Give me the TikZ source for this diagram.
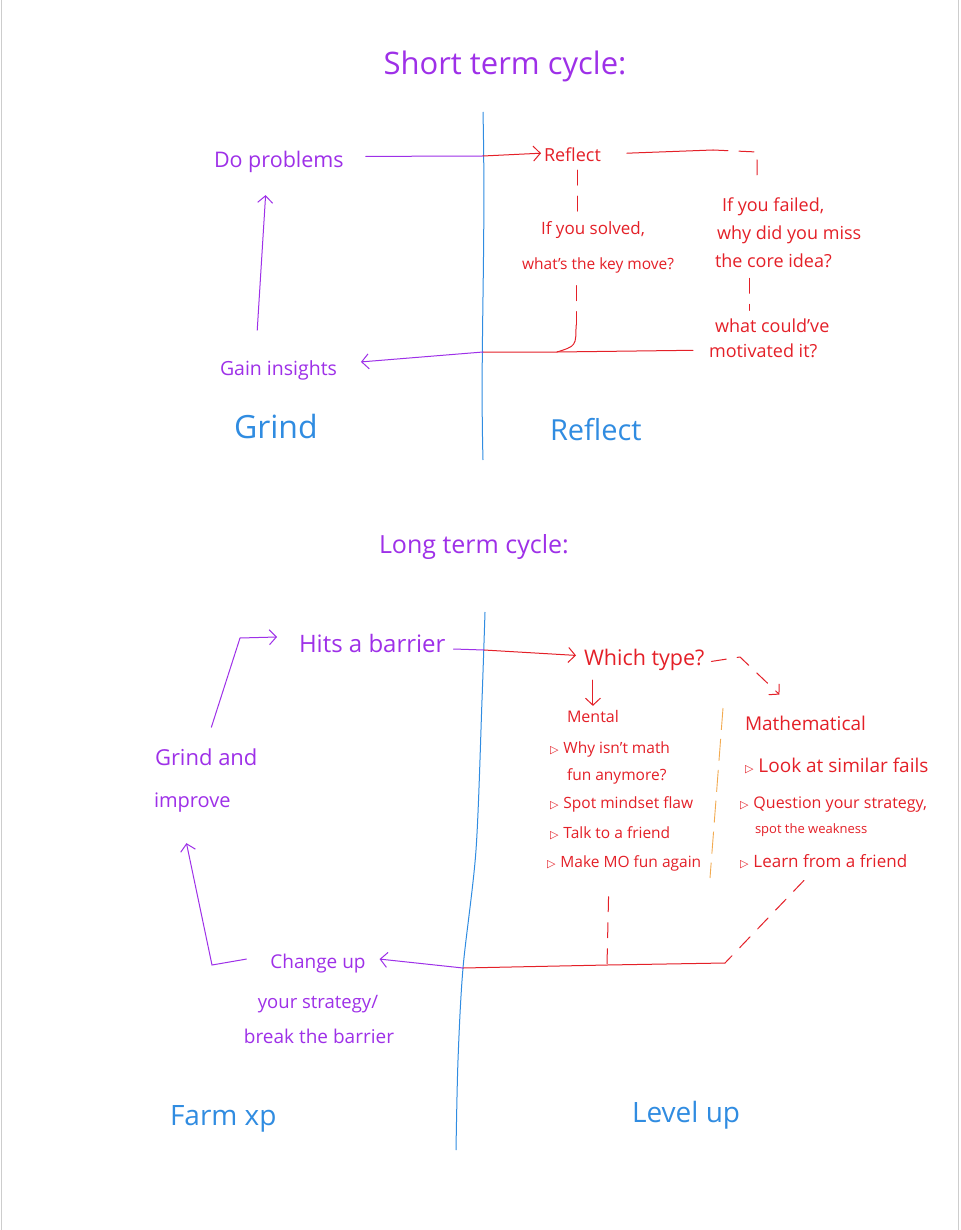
\documentclass[tikz,border=0pt]{standalone}
\usepackage{fontspec}
\setmainfont{Open Sans}
\newfontfamily\symfont{DejaVu Sans}
\usetikzlibrary{arrows.meta}
\definecolor{purp}{RGB}{158,48,232}
\definecolor{rd}{RGB}{228,32,40}
\definecolor{bl}{RGB}{48,140,225}
\definecolor{org}{RGB}{242,170,80}
\definecolor{framegray}{RGB}{205,205,205}
\newcommand{\tri}{{\symfont\fontsize{11}{11}\selectfont ▷}\hspace{5pt}}
\begin{document}
\begin{tikzpicture}[x=1pt,y=-1pt,
  lbl/.style={inner sep=0pt, outer sep=2pt},
  pt/.style={lbl, text=purp},
  rt/.style={lbl, text=rd},
  bt/.style={lbl, text=bl},
  fs/.style={font=\fontsize{#1}{#1}\selectfont},
  pline/.style={draw=purp, line width=1pt, line cap=round},
  rline/.style={draw=rd, line width=1pt, line cap=round},
  rdash/.style={rline, dash pattern=on 15pt off 11pt},
  odash/.style={draw=org, line width=0.9pt, dash pattern=on 22pt off 9pt},
  bline/.style={draw=bl, line width=1pt},
  tip/.style={-{Straight Barb[length=7pt,width=15pt]}},
]
\useasboundingbox (0,0) rectangle (960,1230);
\fill[white] (0,0) rectangle (960,1230);
\draw[framegray, line width=1pt] (1,0) -- (1,1230);
\draw[framegray, line width=1pt] (958.5,0) -- (958.5,1230);

% ---------------- short term cycle ----------------
\node[pt, fs=31, anchor=base] (t1) at (505,75) {Short term cycle:};
\draw[bline] (483,112) .. controls (486,250) and (480,350) .. (483,460);

\node[pt, fs=21.5, anchor=base west] (doprob) at (212,168) {Do problems};
\node[rt, fs=18, anchor=base west] (refl) at (542,162) {Reflect};
\node[rt, fs=17, anchor=base] (sol1) at (593,235) {If you solved,};
\node[rt, fs=15.5, anchor=base] (sol2) at (598,270) {what's the key move?};
\node[rt, fs=18, anchor=base west] (fail1) at (720,212) {If you failed,};
\node[rt, fs=18, anchor=base west] (fail2) at (715,240) {why did you miss};
\node[rt, fs=18, anchor=base west] (fail3) at (713,268) {the core idea?};
\node[rt, fs=18, anchor=base west] (mot1) at (713,332) {what could've};
\node[rt, fs=18, anchor=base west] (mot2) at (707,357) {motivated it?};
\node[pt, fs=19.5, anchor=base west] (gain) at (218,375) {Gain insights};
\node[bt, fs=32, anchor=base west] (grind) at (232,438) {Grind};
\node[bt, fs=29, anchor=base west] (reflB) at (548,440) {Reflect};

\coordinate (x1) at (483,156);
\coordinate (x2) at (483,352);
\coordinate (c1) at (713,150);
\coordinate (c2) at (757,152);
\coordinate (j1) at (576,325);
\coordinate (j0) at (557,352);

\draw[pline] ([xshift=20pt,yshift=6pt]doprob.east) -- (x1);
\draw[rline,tip] (x1) -- ([xshift=-1pt,yshift=2pt]refl.west);
\draw[rline] ([xshift=24pt,yshift=2pt]refl.east) -- (c1);
\draw[rdash] (c1) -- (c2) -- (c2 |- fail1.north) [shorten >=12pt];
\draw[rdash, shorten <=6pt, shorten >=6pt] ([xshift=5pt]refl.south) -- ([xshift=5pt]refl.south |- sol1.north);
\draw[rdash, shorten <=10pt] ([xshift=-22pt]sol2.south) -- (j1);
\draw[rline] (j1) .. controls (576,346) .. (j0);
\draw[rdash, shorten <=8pt, shorten >=6pt] ([xshift=36pt]fail3.south west) -- ([xshift=36pt]fail3.south west |- mot1.north);
\draw[rline] ([xshift=-14pt]mot2.west) -- (j0) -- (x2);
\draw[pline,tip] (x2) -- ([xshift=22pt,yshift=8pt]gain.east);
\draw[pline,tip, shorten <=28pt, shorten >=20pt] ([xshift=-23pt]gain.north) -- ([xshift=-12pt]doprob.south);

% ---------------- long term cycle ----------------
\node[pt, fs=25, anchor=base west] (t2) at (377,553) {Long term cycle:};
\draw[bline] plot[smooth] coordinates {(485,612) (482,700) (476,850) (463,968) (458,1060) (456,1150)};

\node[pt, fs=24, anchor=base west] (hits) at (297,652) {Hits a barrier};
\node[rt, fs=21.5, anchor=base west] (which) at (582,665) {Which type?};
\node[rt, fs=16, anchor=base west] (mental) at (565,722) {Mental};
\node[rt, fs=15.5, anchor=base west] (me1) at (548,753) {\tri Why isn't math};
\node[rt, fs=15.5, anchor=base west] (me2) at (565,780) {fun anymore?};
\node[rt, fs=15.5, anchor=base west] (me3) at (548,808) {\tri Spot mindset flaw};
\node[rt, fs=15.5, anchor=base west] (me4) at (548,838) {\tri Talk to a friend};
\node[rt, fs=15.5, anchor=base west] (me5) at (545,867) {\tri Make MO fun again};
\node[rt, fs=19, anchor=base west] (math) at (743,730) {Mathematical};
\node[rt, fs=19, anchor=base west] (ma1) at (743,772) {\tri Look at similar fails};
\node[rt, fs=16, anchor=base west] (ma2) at (738,808) {\tri Question your strategy,};
\node[rt, fs=13, anchor=base west] (ma3) at (753,833) {spot the weakness};
\node[rt, fs=17, anchor=base west] (ma4) at (738,867) {\tri Learn from a friend};
\node[pt, fs=22, anchor=base west] (gi1) at (153,765) {Grind and};
\node[pt, fs=20, anchor=base west] (gi2) at (152,807) {improve};
\node[pt, fs=19, anchor=base] (ch1) at (318,968) {Change up};
\node[pt, fs=18.5, anchor=base] (ch2) at (318,1008) {your strategy/};
\node[pt, fs=19, anchor=base] (ch3) at (319,1043) {break the barrier};
\node[bt, fs=28, anchor=base west] (farm) at (168,1125) {Farm xp};
\node[bt, fs=28, anchor=base west] (level) at (630,1122) {Level up};

\coordinate (x3) at (484,650);
\coordinate (x4) at (463,968);
\coordinate (k1) at (740,657);
\coordinate (j2) at (607,965);
\coordinate (j3) at (725,963);
\coordinate (b1) at (212,965);
\coordinate (b2) at (240,638);

\draw[pline] ([xshift=6pt,yshift=-6pt]hits.east) -- (x3);
\draw[rline,tip] (x3) -- ([xshift=-6pt,yshift=4pt]which.west);
\draw[rdash,tip] ([xshift=5pt,yshift=-2pt]which.east) -- (k1) -- ([xshift=-26pt,yshift=19pt]math.north);
\draw[rline,tip, shorten <=8pt, shorten >=2pt] (which.south -| mental.north) -- (mental.north);
\draw[odash] (723,708) -- (710,878);
\draw[rdash, shorten <=24pt] ([xshift=-15pt]me5.south) -- (j2);
\draw[rdash, shorten <=14pt] ([xshift=-10pt]ma4.south) -- (j3);
\draw[rline] (j3) -- (j2) -- (x4);
\draw[pline,tip] (x4) -- ([xshift=12pt,yshift=4pt]ch1.east);
\draw[pline,tip, shorten >=30pt] ([xshift=-22pt,yshift=4pt]ch1.west) -- (b1) -- ([xshift=-12pt]gi2.south);
\draw[pline,tip, shorten <=20pt] ([xshift=-1pt]gi1.north) -- (b2) -- ([xshift=-20pt,yshift=6pt]hits.west);
\end{tikzpicture}
\end{document}
